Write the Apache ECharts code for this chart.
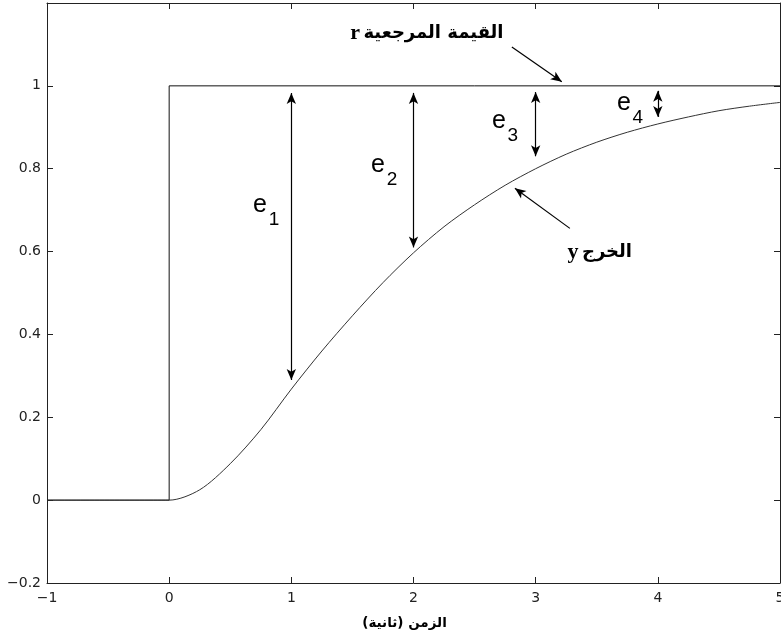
<!DOCTYPE html>
<html><head><meta charset="utf-8">
<script src="https://cdn.jsdelivr.net/npm/echarts@6/dist/echarts.min.js"></script>
<style>html,body{margin:0;padding:0;background:#fff}#c{width:781px;height:635px}</style>
</head><body><div id="c"></div>
<script>
// reference step r
const refT = [-1, 0, 0, 5];
const refV = [0, 0, 1, 1];
// output y
const outT = [-1, 0, 0.25, 0.5, 0.75, 1, 1.25, 1.5, 1.75, 2, 2.25, 2.5, 2.75, 3, 3.25, 3.5, 3.75, 4, 4.25, 4.5, 4.75, 5];
const outV = [0, 0, 0.025, 0.088, 0.17, 0.268, 0.36, 0.445, 0.525, 0.597, 0.66, 0.713, 0.76, 0.80, 0.835, 0.864, 0.888, 0.908, 0.925, 0.94, 0.951, 0.96];
// error arrows e1..e4
const errT = [1, 2, 3, 4];
const errTop = [0.983, 0.983, 0.985, 0.988];
const errBottom = [0.29, 0.61, 0.83, 0.925];
const errSub = ['1', '2', '3', '4'];
// axis ticks
const xMin = -1, xMax = 5, xStep = 1;
const yMin = -0.2, yMax = 1.2, yStep = 0.2;
// text
const refLabel = 'القيمة المرجعية';
const outLabel = 'الخرج';
const xName = '\u200Fالزمن (ثانية)\u200F';

const chart = echarts.init(document.getElementById('c'));
const frame = { show: true, onZero: false, lineStyle: { color: '#222', width: 1 } };
const tickIn = { show: true, inside: true, length: 6, lineStyle: { color: '#222', width: 1 } };
const fmt = v => (Math.abs(v - yMax) < 1e-9 ? '' : String(+v.toFixed(2)).replace('-', '\u2212'));

// label positions (data coords)
const eLabelPos = [[0.743, 0.712], [1.709, 0.809], [2.699, 0.915], [3.722, 0.959]];

const errLines = errT.map((t, i) => [{ coord: [t, errTop[i]] }, { coord: [t, errBottom[i]] }]);
const arRich = { r: { fontFamily: 'Liberation Serif', fontWeight: 'bold', fontSize: 22, color: '#000' }, a: { fontFamily: 'DejaVu Sans', fontWeight: 'bold', fontSize: 18, color: '#000' } };
const marks = [];
eLabelPos.forEach((p, i) => {
  marks.push({ coord: p, symbolSize: 0, label: { show: true, position: 'inside', formatter: 'e', fontFamily: 'Liberation Sans', fontSize: 25, color: '#000' } });
  marks.push({ coord: p, symbolSize: 0, label: { show: true, position: 'inside', offset: [14, 15], formatter: errSub[i], fontFamily: 'Liberation Sans', fontSize: 19, color: '#000' } });
});
marks.push({ coord: [2.11, 1.128], symbolSize: 0, label: { show: true, position: 'inside', formatter: '{r|r} {a|' + refLabel + '}', rich: arRich } });
marks.push({ coord: [3.525, 0.598], symbolSize: 0, label: { show: true, position: 'inside', formatter: '{r|y} {a|' + outLabel + '}', rich: arRich } });

const pointerLines = [
  [{ coord: [2.805, 1.094], symbol: 'none' }, { coord: [3.214, 1.0097], symbol: 'arrow' }],
  [{ coord: [3.28, 0.656], symbol: 'none' }, { coord: [2.83, 0.753], symbol: 'arrow' }]
];

chart.setOption({
  animation: false,
  backgroundColor: '#fff',
  grid: { left: 47, right: 1, top: 3, bottom: 52, containLabel: false, outerBoundsMode: 'none' },
  xAxis: [
    { type: 'value', min: xMin, max: xMax, interval: xStep, position: 'bottom', axisLine: frame, axisTick: tickIn, splitLine: { show: false },
      axisLabel: { margin: 8, fontFamily: 'DejaVu Sans', fontSize: 14, color: '#222', formatter: v => String(v).replace('-', '\u2212') },
      name: xName, nameLocation: 'middle', nameGap: 33,
      nameTextStyle: { fontFamily: 'DejaVu Sans', fontWeight: 'bold', fontSize: 13.5, color: '#000', padding: [0, 18, 0, 0] } },
    { type: 'value', min: xMin, max: xMax, interval: xStep, position: 'top', axisLine: frame, axisTick: tickIn, axisLabel: { show: false }, splitLine: { show: false } }
  ],
  yAxis: [
    { type: 'value', min: yMin, max: yMax, interval: yStep, position: 'left', axisLine: frame, axisTick: tickIn, splitLine: { show: false },
      axisLabel: { margin: 6, fontFamily: 'DejaVu Sans', fontSize: 14, color: '#222', formatter: fmt } },
    { type: 'value', min: yMin, max: yMax, interval: yStep, position: 'right', axisLine: frame, axisTick: tickIn, axisLabel: { show: false }, splitLine: { show: false } }
  ],
  series: [
    { name: 'r', type: 'line', data: refT.map((t, i) => [t, refV[i]]), showSymbol: false, symbol: 'none',
      lineStyle: { color: '#111', width: 1 }, silent: true },
    { name: 'y', type: 'line', data: outT.map((t, i) => [t, outV[i]]), showSymbol: false, symbol: 'none', smooth: 0.3,
      lineStyle: { color: '#333', width: 1 }, silent: true,
      markLine: { silent: true, symbol: ['arrow', 'arrow'], symbolSize: [7, 11], label: { show: false },
        lineStyle: { color: '#000', width: 1.2, type: 'solid' }, emphasis: { disabled: true },
        data: errLines.concat(pointerLines) },
      markPoint: { silent: true, data: marks } }
  ]
});
</script></body></html>
